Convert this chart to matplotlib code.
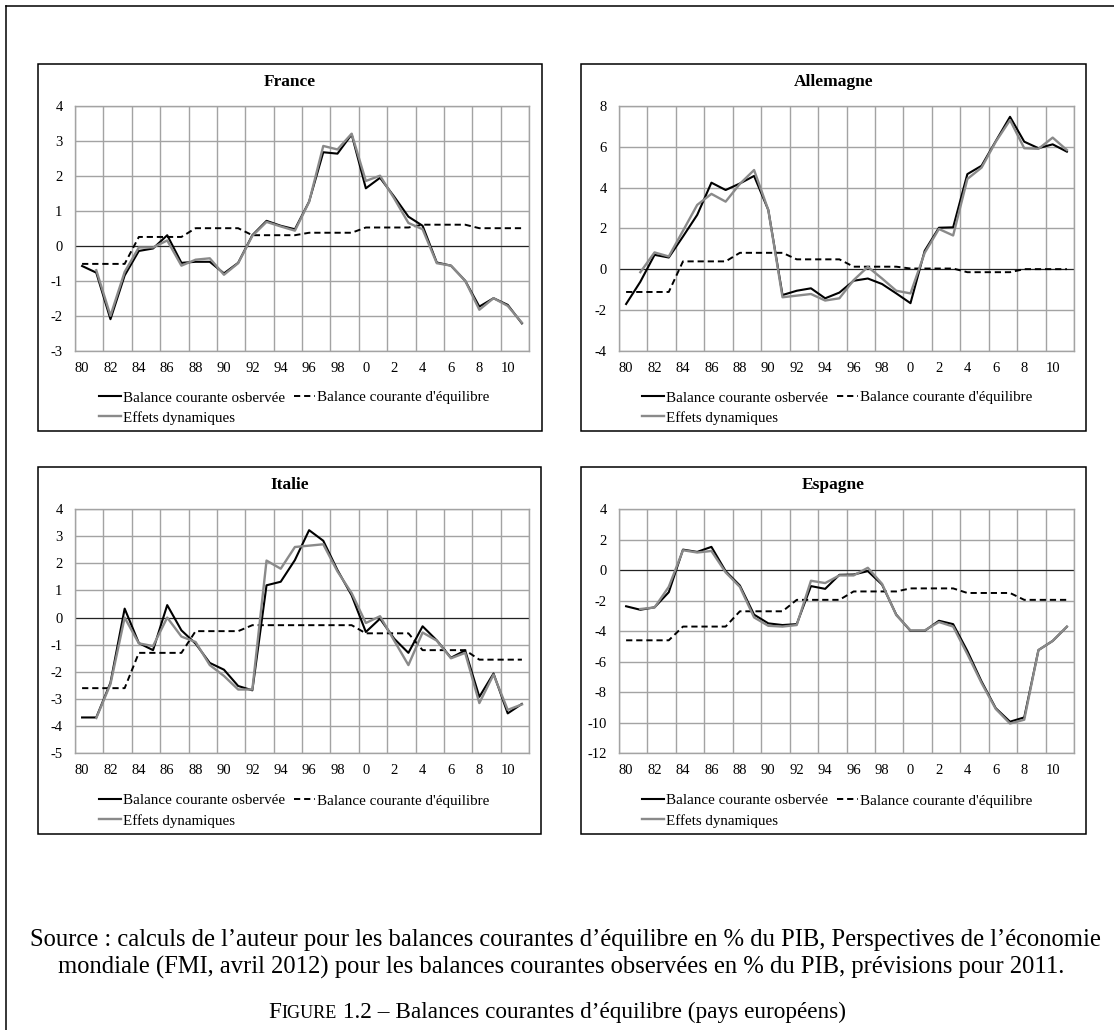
import matplotlib
matplotlib.use("Agg")
import matplotlib.pyplot as plt
import numpy as np
from matplotlib.patches import Rectangle
from matplotlib.lines import Line2D

# ---------------- data ----------------
years = list(range(1980, 2012))
year_labels = ['80', '82', '84', '86', '88', '90', '92', '94', '96', '98',
               '0', '2', '4', '6', '8', '10']
nan = float('nan')

france_obs = [-0.58, -0.77, -2.10, -0.85, -0.15, -0.08, 0.30, -0.49, -0.46, -0.46,
              -0.79, -0.49, 0.30, 0.71, 0.57, 0.47, 1.26, 2.67, 2.63, 3.18,
              1.64, 1.94, 1.40, 0.83, 0.57, -0.48, -0.57, -1.00, -1.74, -1.50,
              -1.69, -2.22]
france_eq = [-0.52, -0.52, -0.52, -0.52, 0.25, 0.25, 0.25, 0.25, 0.50, 0.50,
             0.50, 0.50, 0.30, 0.30, 0.30, 0.30, 0.37, 0.37, 0.37, 0.37,
             0.52, 0.52, 0.52, 0.52, 0.60, 0.60, 0.60, 0.60, 0.50, 0.50,
             0.50, 0.50]
france_dyn = [nan, -0.70, -2.00, -0.75, -0.05, -0.05, 0.15, -0.57, -0.40, -0.36,
              -0.83, -0.50, 0.28, 0.68, 0.55, 0.43, 1.25, 2.85, 2.75, 3.20,
              1.85, 2.00, 1.35, 0.65, 0.47, -0.50, -0.57, -1.00, -1.83, -1.50,
              -1.72, -2.20]

allemagne_obs = [-1.71, -0.62, 0.70, 0.57, 1.60, 2.66, 4.24, 3.88, 4.20, 4.57,
                 2.90, -1.27, -1.06, -0.94, -1.43, -1.15, -0.57, -0.46, -0.73, -1.19,
                 -1.67, 0.90, 2.03, 2.05, 4.66, 5.07, 6.28, 7.47, 6.25, 5.93,
                 6.12, 5.76]
allemagne_eq = [-1.12, -1.12, -1.12, -1.12, 0.38, 0.38, 0.38, 0.38, 0.80, 0.80,
                0.80, 0.80, 0.48, 0.48, 0.48, 0.48, 0.12, 0.12, 0.12, 0.12,
                0.03, 0.03, 0.03, 0.03, -0.15, -0.15, -0.15, -0.15, 0.00, 0.00,
                0.00, 0.00]
allemagne_dyn = [nan, -0.15, 0.82, 0.62, 1.88, 3.15, 3.69, 3.31, 4.18, 4.86,
                 2.90, -1.38, -1.30, -1.22, -1.54, -1.43, -0.54, 0.11, -0.46, -1.06,
                 -1.19, 0.80, 1.97, 1.65, 4.42, 4.98, 6.25, 7.31, 5.93, 5.90,
                 6.45, 5.84]

italie_obs = [-3.68, -3.68, -2.40, 0.33, -0.94, -1.20, 0.46, -0.47, -0.96, -1.67,
              -1.92, -2.52, -2.68, 1.19, 1.32, 2.12, 3.22, 2.83, 1.75, 0.82,
              -0.53, -0.04, -0.78, -1.30, -0.32, -0.84, -1.48, -1.21, -2.92, -2.06,
              -3.53, -3.18]
italie_eq = [-2.60, -2.60, -2.60, -2.60, -1.30, -1.30, -1.30, -1.30, -0.50, -0.50,
             -0.50, -0.50, -0.28, -0.28, -0.28, -0.28, -0.28, -0.28, -0.28, -0.28,
             -0.58, -0.58, -0.58, -0.58, -1.20, -1.20, -1.20, -1.20, -1.55, -1.55,
             -1.55, -1.55]
italie_dyn = [nan, -3.70, -2.45, 0.00, -0.95, -1.05, 0.00, -0.70, -0.90, -1.75,
              -2.15, -2.65, -2.65, 2.10, 1.80, 2.60, 2.65, 2.70, 1.70, 0.90,
              -0.20, 0.05, -0.85, -1.75, -0.55, -0.85, -1.50, -1.30, -3.15, -2.10,
              -3.40, -3.20]

espagne_obs = [-2.37, -2.60, -2.44, -1.45, 1.34, 1.19, 1.52, -0.07, -1.01, -2.92,
               -3.49, -3.60, -3.54, -1.05, -1.23, -0.31, -0.29, -0.07, -0.95, -2.92,
               -3.98, -3.98, -3.32, -3.54, -5.30, -7.30, -9.05, -9.93, -9.65, -5.24,
               -4.64, -3.71]
espagne_eq = [-4.60, -4.60, -4.60, -4.60, -3.70, -3.70, -3.70, -3.70, -2.70, -2.70,
              -2.70, -2.70, -1.95, -1.95, -1.95, -1.95, -1.40, -1.40, -1.40, -1.40,
              -1.20, -1.20, -1.20, -1.20, -1.50, -1.50, -1.50, -1.50, -1.95, -1.95,
              -1.95, -1.95]
espagne_dyn = [nan, -2.55, -2.45, -1.10, 1.30, 1.15, 1.25, -0.15, -1.10, -3.10,
               -3.65, -3.70, -3.60, -0.70, -0.85, -0.35, -0.35, 0.15, -0.90, -2.95,
               -3.95, -3.95, -3.40, -3.70, -5.50, -7.40, -9.10, -10.05, -9.80, -5.24,
               -4.64, -3.71]

titles = ['France', 'Allemagne', 'Italie', 'Espagne']
legend_labels = ['Balance courante osbervée', "Balance courante d'équilibre",
                 'Effets dynamiques']
caption_1 = ("Source : calculs de l\u2019auteur pour les balances courantes d\u2019équilibre "
             "en % du PIB, Perspectives de l\u2019économie")
caption_2 = ("mondiale (FMI, avril 2012) pour les balances courantes observées en % du PIB, "
             "prévisions pour 2011.")
fig_caption = ["F", "IGURE", " 1.2 \u2013 Balances courantes d\u2019équilibre (pays européens)"]

# ---------------- layout ----------------
W, H = 1114, 1030
fig = plt.figure(figsize=(W / 100, H / 100), dpi=100)
SERIF = 'Liberation Serif'


def fx(px):
    return px / W


def fy(py):
    return 1 - py / H


GRID = '#a3a3a3'
GRAY = '#8a8a8a'

panels = [
    dict(title=titles[0], obs=france_obs, eq=france_eq, dyn=france_dyn,
         ax=(75, 105.7, 529, 350.7), box=(38, 64, 542, 431), ylim=(-3, 4), step=1,
         title_y=82, leg=(99, 391)),
    dict(title=titles[1], obs=allemagne_obs, eq=allemagne_eq, dyn=allemagne_dyn,
         ax=(619, 106, 1074, 350.7), box=(581, 64, 1086, 431), ylim=(-4, 8), step=2,
         title_y=82, leg=(642, 391)),
    dict(title=titles[2], obs=italie_obs, eq=italie_eq, dyn=italie_dyn,
         ax=(75, 509, 529, 753.3), box=(38, 467, 541, 834), ylim=(-5, 4), step=1,
         title_y=485, leg=(99, 794)),
    dict(title=titles[3], obs=espagne_obs, eq=espagne_eq, dyn=espagne_dyn,
         ax=(619, 509, 1074, 753.3), box=(581, 467, 1086, 834), ylim=(-12, 4), step=2,
         title_y=485, leg=(642, 794)),
]

x = np.arange(len(years))

for p in panels:
    l, t, r, b = p['ax']
    ax = fig.add_axes([fx(l), fy(b), (r - l) / W, (b - t) / H])
    ymin, ymax = p['ylim']
    ax.set_xlim(-0.5, len(years) - 0.5)
    ax.set_ylim(ymin, ymax)
    ax.set_yticks(np.arange(ymin, ymax + p['step'] / 2, p['step']))
    ax.set_yticklabels([f"{v:g}" for v in np.arange(ymin, ymax + p['step'] / 2, p['step'])])
    ax.set_xticks(x[::2])
    ax.set_xticklabels(year_labels)
    ax.set_xticks(np.arange(-0.5, len(years), 2), minor=True)
    ax.grid(which='minor', axis='x', color=GRID, lw=1.0)
    ax.grid(which='major', axis='y', color=GRID, lw=1.0)
    ax.tick_params(which='both', length=0, labelsize=10.5)
    ax.tick_params(axis='y', pad=9)
    ax.tick_params(axis='x', pad=8)
    for lab in ax.get_xticklabels() + ax.get_yticklabels():
        lab.set_fontfamily(SERIF)
    for s in ax.spines.values():
        s.set_color(GRID)
        s.set_linewidth(1.0)
    ax.set_axisbelow(True)
    ax.axhline(0, color='#222222', lw=0.8, zorder=1.5)
    h_obs, = ax.plot(x, p['obs'], color='black', lw=1.5, zorder=3,
                     label=legend_labels[0])
    h_eq, = ax.plot(x, p['eq'], color='black', lw=1.4, ls=(0, (3.2, 2.0)), zorder=3,
                    label=legend_labels[1])
    h_dyn, = ax.plot(x, p['dyn'], color=GRAY, lw=1.7, zorder=4,
                     label=legend_labels[2])
    lx, ly = p['leg']
    ax.legend(handles=[h_obs, h_dyn, h_eq], ncol=2, loc='upper left',
              bbox_to_anchor=(fx(lx), fy(ly)), bbox_transform=fig.transFigure,
              frameon=False, borderpad=0, borderaxespad=0, handlelength=1.45,
              handletextpad=0.12, columnspacing=0.6, labelspacing=0.42,
              prop={'family': SERIF, 'size': 10.8})
    bx0, by0, bx1, by1 = p['box']
    cx = (bx0 + bx1) / 2
    fig.text(fx(cx), fy(p['title_y']), p['title'], ha='center', va='center',
             fontweight='bold', family=SERIF, size=12.5)
    fig.add_artist(Rectangle((fx(bx0), fy(by1)), (bx1 - bx0) / W, (by1 - by0) / H,
                             transform=fig.transFigure, fill=False, ec='black', lw=1.1))

# outer frame (top and left edges visible)
fig.add_artist(Line2D([fx(6), fx(6)], [fy(6), 0], transform=fig.transFigure,
                      color='black', lw=1.1))
fig.add_artist(Line2D([fx(6), 1], [fy(6), fy(6)], transform=fig.transFigure,
                      color='black', lw=1.1))

# captions
renderer = fig.canvas.get_renderer()
t1 = fig.text(fx(565), fy(940), caption_1, ha='center', va='center', family=SERIF, size=13)
w1 = t1.get_window_extent(renderer).width
cap_size = 13 * 1070 / w1
t1.set_fontsize(cap_size)
fig.text(fx(561), fy(967), caption_2, ha='center', va='center', family=SERIF, size=cap_size)

# small caps figure caption
S0 = 17
sizes = [S0, S0 * 0.78, S0]
parts = [fig.text(0, fy(1018), s, ha='left', va='baseline', family=SERIF, size=sz)
         for s, sz in zip(fig_caption, sizes)]
widths = [tp.get_window_extent(renderer).width for tp in parts]
scale = 578 / sum(widths)
for tp, sz in zip(parts, sizes):
    tp.set_fontsize(sz * scale)
widths = [tp.get_window_extent(renderer).width for tp in parts]
xpos = 557 - sum(widths) / 2
for tp, w in zip(parts, widths):
    tp.set_x(fx(xpos))
    xpos += w

fig.savefig('out.png', dpi=100, facecolor='white')
